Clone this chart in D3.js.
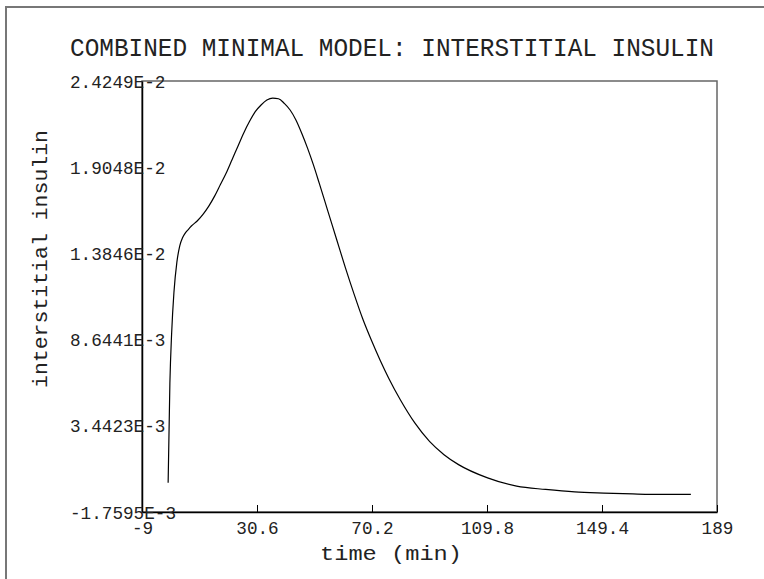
<!DOCTYPE html>
<html>
<head>
<meta charset="utf-8">
<script src="https://cdn.jsdelivr.net/npm/d3@7"></script>
<style>
  body { margin: 0; background: #fff; }
  text { font-family: "Liberation Mono", "DejaVu Sans Mono", monospace; fill: #222; }
</style>
</head>
<body>
<div class="canva"></div>
<script>
// curve
const times = [0, 0.6, 1.2, 2, 3, 4, 5, 6, 7, 8, 10, 12, 14, 16, 18, 20, 22, 24, 26, 28, 30,
  32, 34, 36, 38, 40, 42, 44, 46, 48, 50, 52, 55, 58, 61, 64, 67, 70, 73, 76, 80, 85, 90,
  95, 100, 110, 120, 130, 140, 150, 160, 170, 180];
const insulin = [0, 0.0060, 0.0090, 0.0115, 0.0133, 0.0143, 0.0148, 0.0151, 0.0153, 0.0155,
  0.0158, 0.0162, 0.0167, 0.0173, 0.0180, 0.0187, 0.0195, 0.0203, 0.0211, 0.0218, 0.0224,
  0.0228, 0.0231, 0.02322, 0.02318, 0.0229, 0.0225, 0.0219, 0.0211, 0.0202, 0.0192, 0.0181,
  0.0164, 0.0147, 0.0130, 0.0114, 0.0099, 0.0086, 0.0074, 0.0063, 0.0050, 0.0036, 0.0025,
  0.0017, 0.0011, 0.0003, -0.0002, -0.0004, -0.00055, -0.00062, -0.00067, -0.0007, -0.0007];

const xTicks = [-9, 30.6, 70.2, 109.8, 149.4, 189];
const xTickLabels = ["-9", "30.6", "70.2", "109.8", "149.4", "189"];
const yTicks = [-1.7595e-3, 3.4423e-3, 8.6441e-3, 1.3846e-2, 1.9048e-2, 2.4249e-2];
const yTickLabels = ["-1.7595E-3", "3.4423E-3", "8.6441E-3", "1.3846E-2", "1.9048E-2", "2.4249E-2"];

const title = "COMBINED MINIMAL MODEL: INTERSTITIAL INSULIN";
const xTitle = "time (min)";
const yTitle = "interstitial insulin";

const width = 764, height = 579;
const margin = {top: 81, right: 47, bottom: 67, left: 142};
const graphWidth = width - margin.left - margin.right;
const graphHeight = height - margin.top - margin.bottom;

const svg = d3.select(".canva").append("svg")
    .attr("width", width)
    .attr("height", height);

// outer frame, runs off the page on the right and bottom
svg.append("rect")
    .attr("x", 6).attr("y", 7)
    .attr("width", width + 10).attr("height", height + 10)
    .attr("fill", "none").attr("stroke", "#777").attr("stroke-width", 2);

const x = d3.scaleLinear().domain([-9, 189]).range([0, graphWidth]);
const y = d3.scaleLinear().domain([yTicks[0], yTicks[5]]).range([graphHeight, 0]);

const graph = svg.append("g")
    .attr("transform", `translate(${margin.left}, ${margin.top})`);

graph.append("rect")
    .attr("width", graphWidth).attr("height", graphHeight)
    .attr("fill", "none").attr("stroke", "#666").attr("stroke-width", 1.5);

const xAxis = d3.axisBottom(x)
    .tickValues(xTicks)
    .tickSizeInner(-7).tickSizeOuter(0)
    .tickFormat((d, i) => xTickLabels[i]);

const xAxisGroup = graph.append("g")
    .attr("transform", `translate(0, ${graphHeight})`)
    .call(xAxis);
xAxisGroup.select(".domain").attr("stroke", "#000").attr("stroke-width", 1.5);
xAxisGroup.selectAll(".tick line").attr("stroke", "#000");
xAxisGroup.selectAll(".tick text")
    .attr("y", 9).attr("dy", "0.71em")
    .style("font-size", "18px")
    .attr("textLength", (d, i) => xTickLabels[i].length * 10.6)
    .attr("lengthAdjust", "spacingAndGlyphs");

const yAxis = d3.axisLeft(y)
    .tickValues(yTicks)
    .tickSize(0)
    .tickFormat((d, i) => yTickLabels[i]);

const yAxisGroup = graph.append("g").call(yAxis);
yAxisGroup.select(".domain").attr("stroke", "#000").attr("stroke-width", 1.5);
yAxisGroup.selectAll(".tick text")
    .attr("x", 70 - margin.left)
    .attr("text-anchor", "start")
    .style("font-size", "19px")
    .attr("textLength", (d, i) => yTickLabels[i].length * 10.6)
    .attr("lengthAdjust", "spacingAndGlyphs");

const line = d3.line()
    .x((d, i) => x(times[i]))
    .y(d => y(d))
    .curve(d3.curveMonotoneX);

graph.append("path")
    .datum(insulin)
    .attr("d", line)
    .attr("fill", "none")
    .attr("stroke", "#000")
    .attr("stroke-width", 1.2);

svg.append("text")
    .attr("x", 70).attr("y", 56)
    .style("font-size", "26px")
    .attr("textLength", 644).attr("lengthAdjust", "spacingAndGlyphs")
    .text(title);

svg.append("text")
    .attr("x", 320).attr("y", 560)
    .style("font-size", "20px")
    .attr("textLength", 142).attr("lengthAdjust", "spacingAndGlyphs")
    .text(xTitle);

svg.append("text")
    .attr("transform", "translate(47, 259) rotate(-90)")
    .attr("text-anchor", "middle")
    .style("font-size", "20px")
    .attr("textLength", 258).attr("lengthAdjust", "spacingAndGlyphs")
    .text(yTitle);
</script>
</body>
</html>
